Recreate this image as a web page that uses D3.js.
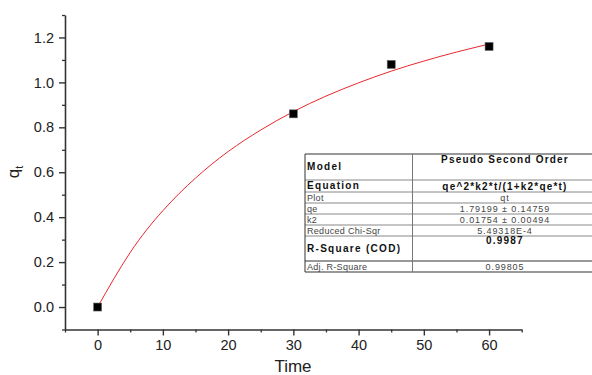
<!DOCTYPE html>
<html>
<head>
<meta charset="utf-8">
<script src="https://cdn.jsdelivr.net/npm/d3@7"></script>
<style>
  body { margin: 0; background: #fff; }
  #chart svg { display: block; }
  .axis path, .axis line { stroke: #333; }
  .axis text { font-family: "Liberation Sans", Arial, sans-serif; fill: #222; }
</style>
</head>
<body>
<div id="chart"></div>
<script>
// measured points
var times = [0, 30, 45, 60];
var qt = [0, 0.86, 1.08, 1.16];

// fitted curve
var fitTimes = [0, 5, 10, 15, 20, 25, 30, 35, 40, 45, 50, 55, 60];
var fitValues = [0, 0.243, 0.429, 0.574, 0.692, 0.788, 0.870, 0.939, 0.998, 1.050, 1.095, 1.135, 1.171];

var xTicks = [0, 10, 20, 30, 40, 50, 60];
var yTicks = [0.0, 0.2, 0.4, 0.6, 0.8, 1.0, 1.2];

// fit table
var tableLabels = ["Model", "Equation", "Plot", "qe", "k2", "Reduced Chi-Sqr", "R-Square (COD)", "Adj. R-Square"];
var tableValues = ["Pseudo Second Order", "qe^2*k2*t/(1+k2*qe*t)", "qt", "1.79199 \u00b1 0.14759", "0.01754 \u00b1 0.00494", "5.49318E-4", "0.9987", "0.99805"];
var tableBold = [true, true, false, false, false, false, true, false];

var width = 592, height = 375;

var svg = d3.select("#chart").append("svg")
  .attr("width", width)
  .attr("height", height);

var x = d3.scaleLinear().domain([-5, 65]).range([65, 521.7]);
var y = d3.scaleLinear().domain([-0.1, 1.3]).range([329.5, 15]);

// minor ticks first, then the major ones with labels
svg.append("g")
  .attr("class", "axis")
  .attr("transform", "translate(0,329.5)")
  .call(d3.axisBottom(x).tickValues(d3.range(-5, 66, 10)).tickSize(3).tickSizeOuter(0).tickFormat(""))
  .call(function(g){ g.select(".domain").remove(); })
  .selectAll("line").attr("stroke-width", 1.3);

svg.append("g")
  .attr("class", "axis")
  .attr("transform", "translate(65,0)")
  .call(d3.axisLeft(y).tickValues([-0.1, 0.1, 0.3, 0.5, 0.7, 0.9, 1.1, 1.3]).tickSize(3).tickSizeOuter(0).tickFormat(""))
  .call(function(g){ g.select(".domain").remove(); })
  .selectAll("line").attr("stroke-width", 1.3);

var xAxis = svg.append("g")
  .attr("class", "axis")
  .attr("transform", "translate(0,329.5)")
  .call(d3.axisBottom(x).tickValues(xTicks).tickSize(6).tickSizeOuter(0).tickPadding(4));
xAxis.select(".domain").attr("stroke-width", 1.6);
xAxis.selectAll("line").attr("stroke-width", 1.4);
xAxis.selectAll("text").style("font-size", "14.5px");

var yAxis = svg.append("g")
  .attr("class", "axis")
  .attr("transform", "translate(65,0)")
  .call(d3.axisLeft(y).tickValues(yTicks).tickSize(6).tickSizeOuter(0).tickPadding(5).tickFormat(d3.format(".1f")));
yAxis.select(".domain").attr("stroke-width", 1.6);
yAxis.selectAll("line").attr("stroke-width", 1.4);
yAxis.selectAll("text").style("font-size", "14.5px");

// axis titles
svg.append("text")
  .attr("x", 293)
  .attr("y", 372)
  .attr("text-anchor", "middle")
  .style("font", "17px 'Liberation Sans', Arial, sans-serif")
  .style("fill", "#222")
  .text("Time");

var yl = svg.append("text")
  .attr("transform", "translate(19,172) rotate(-90)")
  .attr("text-anchor", "middle")
  .style("font", "17px 'Liberation Sans', Arial, sans-serif")
  .style("fill", "#222");
yl.append("tspan").text("q");
yl.append("tspan").attr("dy", 4).style("font-size", "11px").text("t");

// fit line
var line = d3.line()
  .curve(d3.curveNatural)
  .x(function(d, i){ return x(fitTimes[i]); })
  .y(function(d){ return y(d); });

svg.append("path")
  .datum(fitValues)
  .attr("d", line)
  .style("fill", "none")
  .style("stroke", "#e8282e")
  .style("stroke-width", 1);

// data squares
var s = 8;
svg.selectAll("rect.pt")
  .data(qt)
  .enter()
  .append("rect")
  .attr("class", "pt")
  .attr("x", function(d, i){ return x(times[i]) - s / 2; })
  .attr("y", function(d){ return y(d) - s / 2; })
  .attr("width", s)
  .attr("height", s)
  .style("fill", "#000")
  .style("stroke", "#666")
  .style("stroke-width", 0.6);

// results table
var tx0 = 305, tx1 = 412.5, tx2 = 600;
var rowLines = [154, 180, 192, 203, 214, 225, 236, 261, 272];

var tbl = svg.append("g");
tbl.append("rect")
  .attr("x", tx0).attr("y", rowLines[0])
  .attr("width", tx2 - tx0).attr("height", rowLines[8] - rowLines[0])
  .style("fill", "#fff");

tbl.selectAll("line.h")
  .data(rowLines)
  .enter()
  .append("line")
  .attr("class", "h")
  .attr("x1", tx0).attr("x2", tx2)
  .attr("y1", function(d){ return d; })
  .attr("y2", function(d){ return d; })
  .style("stroke", function(d, i){ return (i == 0 || i == 7 || i == 8) ? "#333" : "#888"; })
  .style("stroke-width", 1);

tbl.selectAll("line.v")
  .data([tx0, tx1])
  .enter()
  .append("line")
  .attr("class", "v")
  .attr("x1", function(d){ return d; })
  .attr("x2", function(d){ return d; })
  .attr("y1", rowLines[0]).attr("y2", rowLines[8])
  .style("stroke", function(d, i){ return i == 0 ? "#333" : "#777"; })
  .style("stroke-width", 1);

// label baselines: big rows centred, value in big rows sits near top
var labelY = [170, 189, 200.5, 211.5, 222.5, 233.5, 252, 269.5];
var valueY = [162.5, 189.5, 200.5, 211.5, 222.5, 233.5, 243.5, 269.5];

tbl.selectAll("text.lab")
  .data(tableLabels)
  .enter()
  .append("text")
  .attr("class", "lab")
  .attr("x", tx0 + 2)
  .attr("y", function(d, i){ return labelY[i]; })
  .style("font-family", "'Liberation Sans', Arial, sans-serif")
  .style("font-size", function(d, i){ return tableBold[i] ? "10px" : "9px"; })
  .style("font-weight", function(d, i){ return tableBold[i] ? "bold" : "normal"; })
  .style("letter-spacing", function(d, i){ return tableBold[i] ? "1.3px" : "0.3px"; })
  .style("fill", function(d, i){ return tableBold[i] ? "#111" : "#444"; })
  .text(function(d){ return d; });

tbl.selectAll("text.val")
  .data(tableValues)
  .enter()
  .append("text")
  .attr("class", "val")
  .attr("x", 505)
  .attr("y", function(d, i){ return valueY[i]; })
  .attr("text-anchor", "middle")
  .style("font-family", "'Liberation Sans', Arial, sans-serif")
  .style("font-size", function(d, i){ return tableBold[i] ? "10px" : "9px"; })
  .style("font-weight", function(d, i){ return tableBold[i] ? "bold" : "normal"; })
  .style("letter-spacing", function(d, i){ return tableBold[i] ? "1.2px" : "0.9px"; })
  .style("fill", function(d, i){ return tableBold[i] ? "#111" : "#444"; })
  .text(function(d){ return d; });
</script>
</body>
</html>
